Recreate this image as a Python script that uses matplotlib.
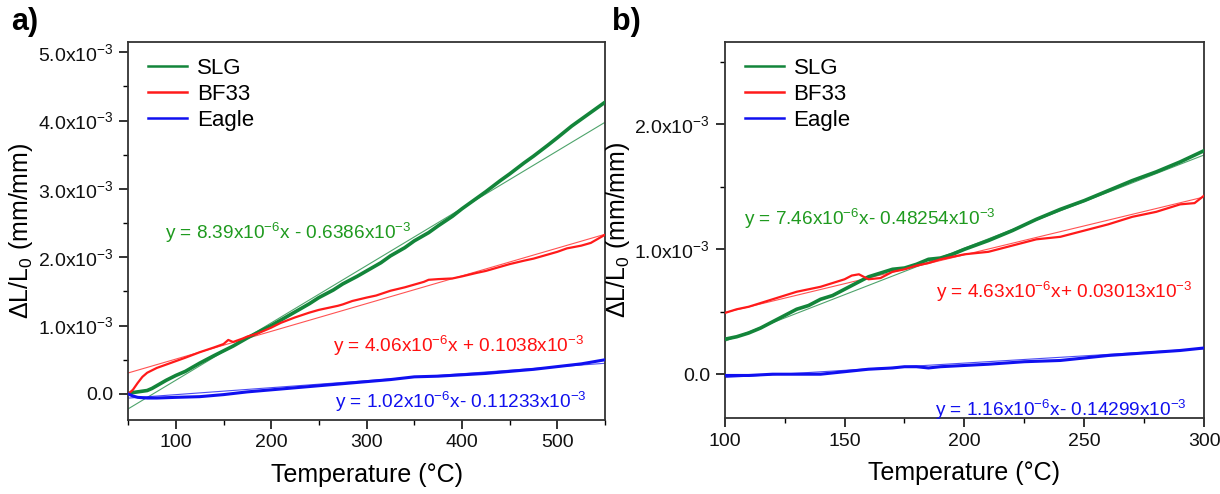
import matplotlib
matplotlib.use("Agg")
import matplotlib.pyplot as plt
import numpy as np
from matplotlib.ticker import FixedLocator, FixedFormatter, MultipleLocator

plt.rcParams['font.family'] = ['Liberation Sans', 'DejaVu Sans']
plt.rcParams['mathtext.fontset'] = 'custom'
plt.rcParams['mathtext.rm'] = 'Liberation Sans'
plt.rcParams['mathtext.it'] = 'Liberation Sans'
plt.rcParams['mathtext.default'] = 'regular'

# ---------------- data (values in 1e-3 mm/mm) ----------------
series_names = ["SLG", "BF33", "Eagle"]

# Panel a)
a_slg_T = [50, 55, 60, 65, 70, 75, 80, 90, 100, 110, 125, 140, 150, 160, 175, 190, 200, 215, 225, 240, 250,
           265, 275, 290, 300, 315, 325, 340, 350, 365, 375, 390, 400, 415, 425, 440, 450, 465, 475, 490,
           500, 515, 525, 540, 550]
a_slg_y = [0.00, 0.02, 0.03, 0.04, 0.05, 0.08, 0.12, 0.20, 0.27, 0.33, 0.45, 0.56, 0.63, 0.70, 0.82, 0.93,
           1.00, 1.12, 1.20, 1.32, 1.41, 1.52, 1.61, 1.72, 1.80, 1.92, 2.02, 2.14, 2.24, 2.36, 2.46, 2.60,
           2.71, 2.86, 2.96, 3.12, 3.22, 3.38, 3.48, 3.64, 3.75, 3.92, 4.02, 4.17, 4.27]

a_bf_T = [50, 55, 60, 65, 70, 80, 90, 100, 110, 125, 140, 150, 155, 160, 170, 175, 185, 200, 210, 225, 240,
          250, 260, 270, 275, 285, 300, 310, 325, 340, 350, 360, 365, 375, 390, 400, 415, 425, 440, 450,
          465, 475, 490, 500, 510, 525, 535, 540, 550]
a_bf_y = [0.00, 0.06, 0.16, 0.25, 0.31, 0.38, 0.43, 0.48, 0.53, 0.61, 0.68, 0.73, 0.79, 0.76, 0.81, 0.84,
          0.88, 0.97, 1.04, 1.12, 1.19, 1.23, 1.26, 1.29, 1.31, 1.36, 1.41, 1.44, 1.51, 1.56, 1.60, 1.64,
          1.67, 1.68, 1.69, 1.72, 1.77, 1.80, 1.86, 1.90, 1.95, 1.98, 2.04, 2.08, 2.13, 2.17, 2.21, 2.25, 2.33]

a_eg_T = [50, 55, 60, 70, 80, 100, 125, 150, 175, 200, 225, 250, 275, 300, 325, 350, 375, 400, 425, 450,
          475, 500, 525, 550]
a_eg_y = [0.00, -0.03, -0.05, -0.06, -0.06, -0.05, -0.04, -0.01, 0.03, 0.06, 0.09, 0.12, 0.15, 0.18, 0.21,
          0.25, 0.26, 0.28, 0.30, 0.33, 0.36, 0.40, 0.44, 0.50]

# Panel b)
b_slg_T = [100, 105, 110, 115, 120, 125, 130, 135, 140, 145, 150, 155, 160, 165, 170, 175, 180, 185, 190,
           195, 200, 210, 220, 230, 240, 250, 260, 270, 280, 290, 300]
b_slg_y = [0.28, 0.30, 0.33, 0.37, 0.42, 0.47, 0.52, 0.55, 0.60, 0.63, 0.68, 0.73, 0.78, 0.81, 0.84, 0.85,
           0.88, 0.92, 0.93, 0.96, 1.00, 1.07, 1.15, 1.24, 1.32, 1.39, 1.47, 1.55, 1.62, 1.70, 1.79]

b_bf_T = [100, 105, 110, 115, 120, 125, 130, 135, 140, 145, 150, 153, 156, 160, 165, 170, 175, 180, 185,
          190, 195, 200, 210, 220, 230, 240, 250, 260, 270, 280, 290, 296, 300]
b_bf_y = [0.49, 0.52, 0.54, 0.57, 0.60, 0.63, 0.66, 0.68, 0.70, 0.73, 0.76, 0.79, 0.80, 0.76, 0.77, 0.82,
          0.84, 0.87, 0.89, 0.92, 0.94, 0.96, 0.98, 1.03, 1.08, 1.10, 1.15, 1.20, 1.26, 1.30, 1.36, 1.37, 1.43]

b_eg_T = [100, 110, 120, 130, 140, 150, 160, 170, 175, 180, 185, 190, 200, 210, 225, 240, 250, 260, 275,
          290, 300]
b_eg_y = [-0.01, -0.01, 0.00, 0.00, 0.00, 0.02, 0.04, 0.05, 0.06, 0.06, 0.05, 0.06, 0.07, 0.08, 0.10, 0.11,
          0.13, 0.15, 0.17, 0.19, 0.21]

# Linear fits: slope (1e-6 per degC), intercept (1e-3)
a_fit_slope = [8.39, 4.06, 1.02]
a_fit_icpt = [-0.6386, 0.1038, -0.11233]
b_fit_slope = [7.46, 4.63, 1.16]
b_fit_icpt = [-0.48254, 0.03013, -0.14299]

a_eq_text = ["y = 8.39x10$^{-6}$x - 0.6386x10$^{-3}$",
             "y = 4.06x10$^{-6}$x + 0.1038x10$^{-3}$",
             "y = 1.02x10$^{-6}$x- 0.11233x10$^{-3}$"]
b_eq_text = ["y = 7.46x10$^{-6}$x- 0.48254x10$^{-3}$",
             "y = 4.63x10$^{-6}$x+ 0.03013x10$^{-3}$",
             "y = 1.16x10$^{-6}$x- 0.14299x10$^{-3}$"]

a_xticks = [100, 200, 300, 400, 500]
a_yticks = [0.0, 1.0, 2.0, 3.0, 4.0, 5.0]
a_ytick_labels = ["0.0", "1.0x10$^{-3}$", "2.0x10$^{-3}$", "3.0x10$^{-3}$", "4.0x10$^{-3}$", "5.0x10$^{-3}$"]
b_xticks = [100, 150, 200, 250, 300]
b_yticks = [0.0, 1.0, 2.0]
b_ytick_labels = ["0.0", "1.0x10$^{-3}$", "2.0x10$^{-3}$"]

# ---------------- styling ----------------
curve_colors = ["#13853a", "#ff1a1a", "#1010f0"]
curve_lw = [2.6, 1.6, 2.2]
text_colors = ["#1f9a1f", "#ff1010", "#1010ee"]

fig = plt.figure(figsize=(12.2, 4.94), dpi=100)
axA = fig.add_axes([0.105, 0.150, 0.391, 0.765])
axB = fig.add_axes([0.594, 0.154, 0.393, 0.761])


def style_axis(ax, xlim, ylim, xticks, xminor, yticks, ylabels):
    ax.set_xlim(*xlim)
    ax.set_ylim(*ylim)
    ax.xaxis.set_major_locator(FixedLocator(xticks))
    ax.xaxis.set_minor_locator(MultipleLocator(xminor))
    ax.yaxis.set_major_locator(FixedLocator(yticks))
    ax.yaxis.set_major_formatter(FixedFormatter(ylabels))
    ax.yaxis.set_minor_locator(MultipleLocator(0.5))
    ax.tick_params(which='major', direction='out', length=6.5, width=1.2, labelsize=14, colors='#111111',
                   pad=4)
    ax.tick_params(which='minor', direction='out', length=3.5, width=1.0)
    for s in ax.spines.values():
        s.set_linewidth(1.3)
        s.set_color('#333333')
    ax.set_xlabel("Temperature (°C)", fontsize=18, labelpad=8)
    ax.set_ylabel("ΔL/L$_0$ (mm/mm)", fontsize=18, labelpad=2)


def draw_panel(ax, data, slopes, icpts, xlim):
    xs = np.array(xlim, dtype=float)
    handles = []
    for i, (T, y) in enumerate(data):
        fit = slopes[i] * 1e-3 * xs + icpts[i]
        ax.plot(xs, fit, color=curve_colors[i], lw=0.8, alpha=0.75, zorder=2)
        h, = ax.plot(T, y, color=curve_colors[i], lw=curve_lw[i], zorder=3)
        handles.append(h)
    leg = ax.legend(handles, series_names, loc='upper left', frameon=False, fontsize=16,
                    handlelength=1.75, handletextpad=0.45, labelspacing=0.22,
                    bbox_to_anchor=(0.0, 1.01))
    for lh in leg.get_lines():
        lh.set_linewidth(1.8)
    return handles


a_xlim = (50, 550)
a_ylim = (-0.38, 5.15)
b_xlim = (100, 300)
b_ylim = (-0.35, 2.66)

draw_panel(axA, [(a_slg_T, a_slg_y), (a_bf_T, a_bf_y), (a_eg_T, a_eg_y)], a_fit_slope, a_fit_icpt, a_xlim)
draw_panel(axB, [(b_slg_T, b_slg_y), (b_bf_T, b_bf_y), (b_eg_T, b_eg_y)], b_fit_slope, b_fit_icpt, b_xlim)

style_axis(axA, a_xlim, a_ylim, a_xticks, 50, a_yticks, a_ytick_labels)
style_axis(axB, b_xlim, b_ylim, b_xticks, 25, b_yticks, b_ytick_labels)

# equation annotations (axes-fraction positions)
a_eq_pos = [(0.078, 0.495), (0.43, 0.195), (0.433, 0.048)]
b_eq_pos = [(0.04, 0.53), (0.44, 0.335), (0.438, 0.022)]
for i in range(3):
    axA.text(*a_eq_pos[i], a_eq_text[i], transform=axA.transAxes, color=text_colors[i],
             fontsize=13.7, ha='left', va='center')
    axB.text(*b_eq_pos[i], b_eq_text[i], transform=axB.transAxes, color=text_colors[i],
             fontsize=13.7, ha='left', va='center')

fig.text(0.009, 0.955, "a)", fontsize=22, fontweight='bold', va='center', ha='left')
fig.text(0.502, 0.955, "b)", fontsize=22, fontweight='bold', va='center', ha='left')

fig.savefig("out.png", dpi=100)
